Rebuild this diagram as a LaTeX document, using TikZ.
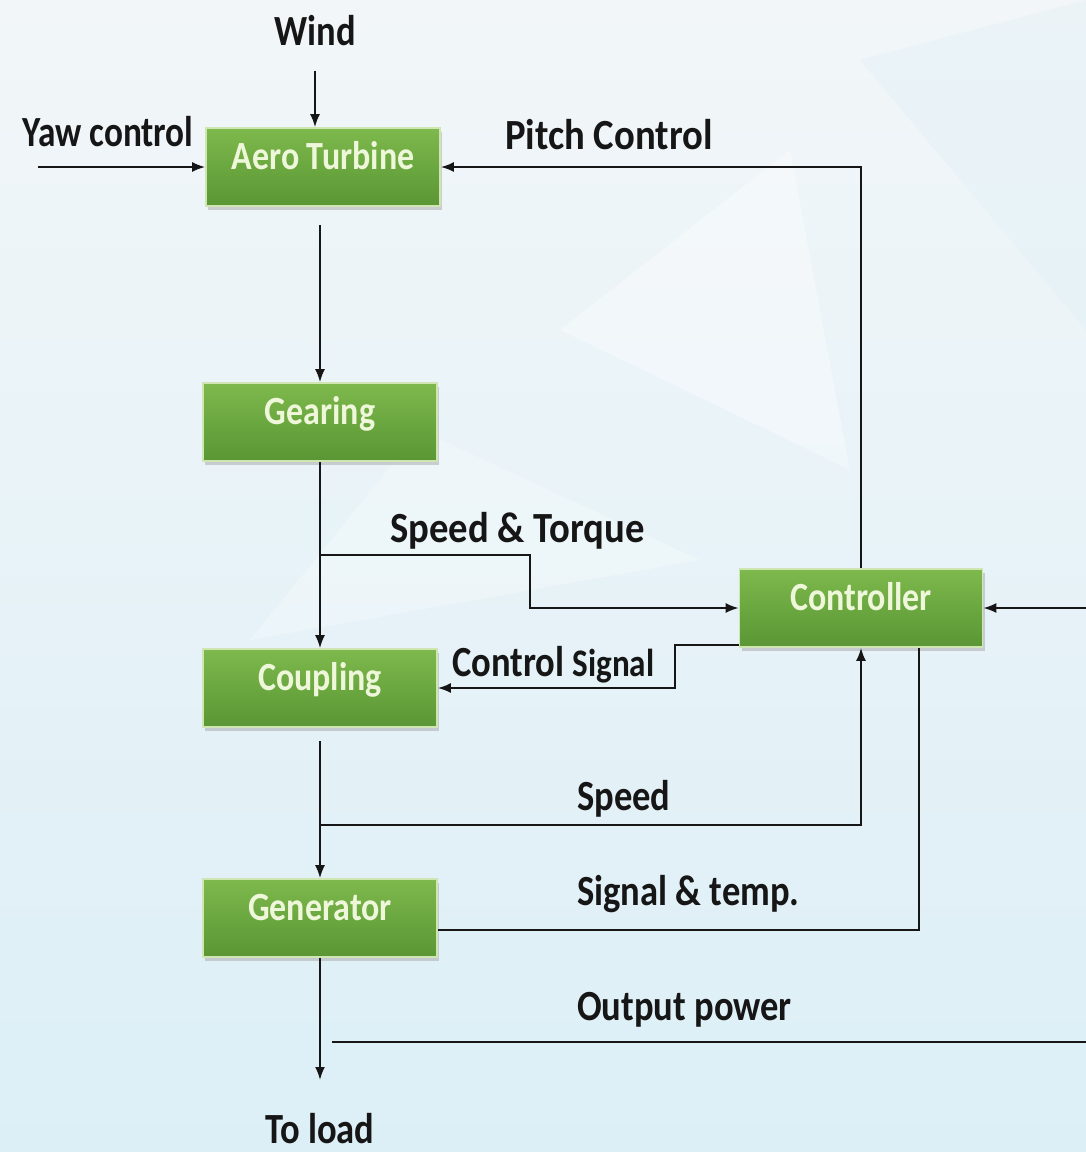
\documentclass[tikz,border=0pt]{standalone}
\usepackage{fontspec}
\setmainfont{Carlito}
\usetikzlibrary{calc,positioning,arrows.meta,shadows}
\definecolor{Mist}{HTML}{F2F6F8}
\definecolor{Sky}{HTML}{DCEFF7}
\definecolor{Leaf}{HTML}{7DB94C}
\definecolor{DeepLeaf}{HTML}{5A9634}
\definecolor{LeafEdge}{HTML}{CFE6B3}
\definecolor{LeafText}{HTML}{EEF7DA}
\definecolor{Ink}{HTML}{161616}
\newcommand{\nar}[1]{\scalebox{0.85}[1]{#1}}
\tikzset{
  blk/.style={draw=LeafEdge,line width=1.6pt,top color=Leaf,bottom color=DeepLeaf,
    minimum width=234pt,minimum height=78pt,inner sep=0pt,text height=30pt,text depth=26pt,
    text=LeafText,font=\fontsize{40}{46}\selectfont\bfseries,
    drop shadow={shadow xshift=2pt,shadow yshift=-4pt,fill=black!35}},
  lbl/.style={anchor=base west,inner sep=0pt,text=Ink,font=\fontsize{43}{50}\selectfont\bfseries},
  arr/.style={Ink,-{Latex[length=13pt,width=10pt]},line width=2pt},
  wire/.style={Ink,line width=2pt}
}
\begin{document}
\begin{tikzpicture}[x=1pt,y=-1pt]
  % backdrop
  \shade[top color=Mist,bottom color=Sky] (0,0) rectangle (1086,1152);
  \fill[white,opacity=.35] (560,330) -- (790,150) -- (850,470) -- cycle;
  \fill[white,opacity=.25] (250,640) -- (420,430) -- (700,560) -- cycle;
  \fill[Sky,opacity=.3] (860,60) -- (1086,0) -- (1086,330) -- cycle;
  \useasboundingbox (0,0) rectangle (1086,1152);

  % blocks
  \node[blk] (aero) at (323,167) {\nar{Aero Turbine}};
  \node[blk] (gear) at (320,422) {\nar{Gearing}};
  \node[blk] (coup) at (320,688) {\nar{Coupling}};
  \node[blk] (gen) at (320,918) {\nar{Generator}};
  \node[blk,minimum width=243pt] (ctrl) at (861,608) {\nar{Controller}};

  % labels
  \node[lbl,anchor=base] (wind) at (315,45) {\nar{Wind}};
  \node[lbl] (yaw) at (22,146) {\scalebox{0.82}[1]{Yaw control}};
  \node[lbl] (pitch) at (505,149) {\scalebox{0.9}[1]{Pitch Control}};
  \node[lbl] (sptq) at (390,542) {\scalebox{0.9}[1]{Speed \& Torque}};
  \node[lbl] (csig) at (452,676) {\nar{Control {\fontsize{39}{46}\selectfont Signal}}};
  \node[lbl] (spd) at (577,810) {\nar{Speed}};
  \node[lbl] (sigt) at (577,905) {\nar{Signal \& temp.}};
  \node[lbl] (outp) at (577,1020) {\nar{Output power}};
  \node[lbl,anchor=base] (load) at (320,1143) {\nar{To load}};

  % free ends
  \coordinate (yawtail) at (38,167);
  \coordinate (stjoin) at (320,555);
  \coordinate (spjoin) at (320,825);
  \coordinate (loadtip) at (320,1080);
  \coordinate (pwrin) at (1086,1042);
  \coordinate (pwrend) at (332,1042);
  \coordinate (ctrlin) at (1086,608);

  % connectors
  \draw[arr,shorten <=25pt] (wind.south) -- (wind.south |- aero.north);
  \draw[arr] (yawtail) -- (aero.west);
  \draw[arr] (ctrl.north) |- (aero.east);
  \draw[arr,shorten <=18pt] (gear.north |- aero.south) -- (gear.north);
  \draw[arr] (gear.south) -- (coup.north);
  \draw[arr] (stjoin) -- ++(210,0) |- (ctrl.west);
  \draw[arr] ($(ctrl.south west)+(0,-3)$) -- ++(-64,0) |- (coup.east);
  \draw[arr,shorten <=13pt] (coup.south) -- (gen.north);
  \draw[arr] (spjoin) -| (ctrl.south);
  \draw[wire] ($(gen.east)+(0,12)$) -| ($(ctrl.south)+(58,0)$);
  \draw[arr] (gen.south) -- (loadtip);
  \draw[wire] (pwrin) -- (pwrend);
  \draw[arr] (ctrlin) -- (ctrl.east);
\end{tikzpicture}
\end{document}
